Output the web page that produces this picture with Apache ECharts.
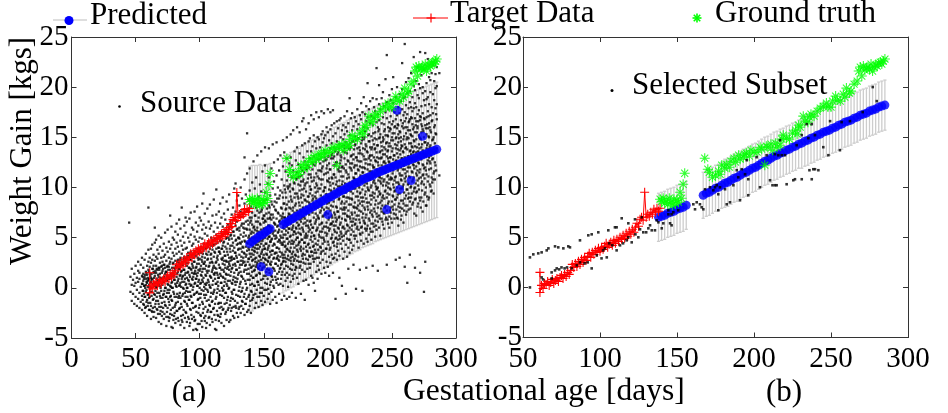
<!DOCTYPE html>
<html>
<head>
<meta charset="utf-8">
<script src="https://cdn.jsdelivr.net/npm/echarts@6/dist/echarts.min.js"></script>
<style>
  html, body { margin: 0; padding: 0; background: #fff; }
  #chart { width: 948px; height: 413px; }
</style>
</head>
<body>
<div id="chart"></div>
<script>
// ---------- (a) full source cohort: rows of [day, gain, gain, ...] ----------
const srcRows = [
  [45,6.5],[46,-0.4,1.1],[47,0.3,-1.3,1.9],[48,0.8,-0.6],[49,-1.6,0.2,1.4],[50,2.2,-0.9,0.5],[51,1.0,-1.8,-0.2],
  [52,0.6,1.7,-1.1,2.6],[53,-0.5,0.9,-2.0,1.5],[54,0.1,2.3,-1.4],[55,1.2,-0.8,0.4,3.0,-2.2],
  [56,0.7,-1.6,2.0,-0.3,1.4],[57,-2.5,0.2,1.1,2.8,-0.9],[58,1.6,-0.4,0.9,-1.9,3.4,0.3],[59,-1.2,2.2,0.5,-2.8,1.3],
  [60,8.0,0.8,-0.6,2.6,-1.5,1.8,3.8],[61,-2.2,0.1,1.4,3.0,-0.9,2.1],[62,0.6,-1.8,2.5,-3.1,1.0,3.9],
  [63,1.9,-0.4,-2.4,0.9,2.8,4.3],[64,-1.1,0.4,3.3,1.6,-2.9,2.2],[65,6.0,2.7,-0.7,1.2,-1.9,4.5,0.2],
  [66,-3.0,1.5,0.0,3.1,-1.3,2.2,4.8],[67,0.7,-2.2,2.9,1.8,-0.5,3.8],[68,-1.6,3.4,0.4,2.0,-3.4,1.1,5.2],
  [69,2.5,-0.8,1.4,4.1,-2.6,0.2],[70,0.9,-1.9,3.0,2.1,-0.3,5.0,-3.6],[71,1.7,-1.0,3.7,0.3,2.6,-2.4],
  [72,-0.6,2.3,4.4,1.0,-3.1,0.6,3.1],[73,3.3,-1.7,1.4,0.0,5.5,2.0],[74,-2.9,0.8,2.7,-0.9,4.0,1.6,-3.8],
  [75,2.2,-0.2,3.6,1.1,-2.0,5.8,0.4],[76,-1.4,3.0,0.9,4.6,-3.3,2.1,-0.5],[77,7.2,1.8,-2.6,3.9,0.2,2.6,-0.9],
  [78,-3.9,1.2,4.3,-1.2,2.9,0.5,6.1],[79,-4.0,2.4,0.0,3.5,-2.0,1.5,5.0],[80,0.8,-2.8,4.8,2.0,-0.6,3.2,1.3],
  [81,-1.7,2.7,0.4,5.6,-3.5,1.9,3.9],[82,3.4,-0.9,1.1,6.4,-2.3,2.2,0.1,4.5],[83,-3.0,0.7,4.1,2.8,-1.4,1.6,5.3],
  [84,1.9,-2.1,3.6,0.2,6.8,-0.8,2.5],[85,-3.7,1.3,4.7,-1.0,3.0,0.5,2.1,5.9],
  [86,8.0,2.6,-1.9,0.9,4.2,-3.2,1.7,3.4],[87,0.0,5.1,-2.7,2.3,-0.6,3.8,1.2],[88,-4.0,1.8,6.2,-1.3,3.1,0.6,4.5,2.7],
  [89,2.9,-2.4,0.3,5.5,-0.9,1.5,3.9,7.0],[90,-3.4,1.0,4.0,2.2,-1.6,6.6,0.0,3.0],[91,-0.4,3.5,1.6,-2.9,5.0,2.5,0.8],
  [92,4.6,-1.2,2.0,-3.8,0.4,6.9,3.2,1.3],[93,-2.2,1.9,5.3,0.2,3.6,-0.8,2.8,7.5],[94,0.9,-3.1,4.2,2.4,-1.5,6.0,1.5,3.3],
  [95,-4.2,2.0,0.1,5.8,3.0,-2.0,4.4,1.1],
  [96,3.7,-0.6,1.5,7.6,-3.3,2.6,0.4,5.1],[97,-1.8,4.8,0.9,3.2,-4.1,2.0,6.5,1.4],[98,-4.2,1.2,3.9,-0.4,5.6,2.4,0.2,8.1],
  [99,2.8,-2.5,0.6,4.6,-1.1,3.4,6.2,1.8],[100,-3.6,1.7,5.0,0.0,2.9,-1.7,7.0,3.8],[101,0.5,4.1,-2.8,2.2,6.7,-0.6,1.3,3.5],
  [102,8.4,-3.9,2.6,0.8,4.9,-1.4,3.1,5.8,1.6],[103,-2.1,3.7,1.0,6.3,-0.3,2.4,4.4,9.4],[104,1.9,-3.3,5.4,0.4,3.0,-1.0,7.4,2.6],
  [105,-4.0,2.2,4.0,-0.7,1.2,6.0,3.4,0.3],
  [106,3.3,-2.4,1.5,5.2,-0.2,2.8,7.9,4.4],[107,0.6,4.6,-3.0,2.1,6.6,-1.2,3.6,1.7],[108,-1.8,2.5,5.9,0.1,3.9,8.3,-3.7,1.2],
  [109,4.2,-0.5,2.9,1.0,6.2,-2.4,3.4,5.0],[110,-3.4,1.8,4.8,0.3,7.2,2.5,-1.3,3.8],[111,2.2,-2.0,5.6,1.4,3.1,8.8,-0.4,4.3],
  [112,-4.1,0.9,3.5,6.5,2.0,-1.6,4.9,1.5],[113,9.8,-4.2,2.6,5.3,0.4,3.9,-0.9,7.3,1.9],[114,1.3,-2.7,4.5,2.8,6.0,-0.1,3.2,0.6],
  [115,-3.3,3.6,1.0,7.6,2.3,-1.5,5.1,4.0],
  [116,4.7,-0.7,2.0,6.4,-2.9,3.4,1.4,8.4],[117,-1.9,2.9,5.5,0.5,3.9,-3.5,7.0,1.8],[118,2.4,6.1,-0.3,4.2,1.1,-2.2,3.0,5.3,9.0],
  [119,-3.8,1.6,4.6,2.7,7.4,0.2,3.6,-1.0],[120,0.9,5.8,-2.6,3.2,2.0,6.8,-0.5,4.1],[121,3.9,-1.5,1.3,8.6,2.6,5.0,-3.2,0.4],
  [122,-2.2,4.4,2.1,6.3,0.7,3.3,7.8,-0.9,5.4],[123,1.8,-3.4,5.9,3.0,0.0,4.8,2.4,9.3],[124,-3.2,2.7,6.6,1.2,4.2,-1.3,3.6,5.2],
  [125,4.9,0.5,-2.0,3.1,7.3,1.9,-0.4,6.0,2.8],
  [126,-1.1,5.6,2.3,8.0,3.7,0.8,-2.8,4.5],[127,2.9,6.8,-0.2,4.0,1.5,9.9,-3.0,5.2],[128,10.4,0.3,3.5,-1.8,6.2,2.2,4.7,7.6,1.0],
  [129,-2.5,4.3,1.8,5.8,3.0,8.7,0.6,6.6],[130,3.8,-0.8,2.6,7.1,5.0,-2.9,1.3,4.4,9.2],[131,0.1,6.0,3.3,-1.9,4.9,2.0,8.2,5.7],
  [132,5.3,1.6,-2.5,3.9,7.6,0.6,2.7,10.0,4.4],[133,-1.3,4.6,2.3,6.4,-0.3,3.6,8.9,1.1],[134,2.5,7.1,-2.1,5.1,0.9,4.0,3.0,6.0],
  [135,13.0,-0.6,3.4,5.9,1.8,8.4,-2.7,4.7,2.6,10.8],
  [136,4.1,0.4,6.6,2.3,-1.6,5.2,9.3,3.1],[137,15.4,1.4,7.7,3.7,-2.4,5.8,0.0,4.5,11.4],[138,2.9,6.3,-0.9,4.0,8.8,1.9,5.0,-2.2],
  [139,11.9,3.4,0.8,7.0,4.8,-1.8,2.3,5.8,9.7],[140,-0.3,4.3,6.7,2.0,8.1,3.1,-2.5,5.4,1.2],[141,5.0,1.6,10.5,3.8,-1.2,6.3,2.7,7.5,0.4],
  [142,12.6,2.2,6.0,-0.7,4.6,8.6,3.3,1.0,5.5],[143,-2.0,4.0,7.2,1.8,5.8,2.9,9.9,0.2,3.6],[144,3.0,6.6,-1.5,5.0,1.2,8.0,4.3,2.1,11.0],
  [145,13.2,0.6,4.7,7.7,2.5,-0.9,6.0,3.5,5.4],
  [146,1.9,5.6,-1.9,3.9,9.1,2.7,7.0,0.3,4.6],[147,6.4,-0.5,3.1,8.4,1.4,5.0,2.2,10.3,4.1],[148,13.6,2.8,7.6,0.8,4.4,-1.3,5.8,3.4,9.6],
  [149,0.0,5.3,2.0,6.9,3.8,11.6,-1.7,4.7,8.0],[150,3.3,8.7,1.2,5.9,-0.8,4.2,7.2,2.5,6.5],[151,14.0,5.0,-1.4,2.9,9.5,0.5,6.7,3.9,12.2],
  [152,2.3,7.4,4.4,-0.2,6.0,1.6,8.8,3.4,5.3],[153,-1.1,4.9,10.4,2.7,6.9,0.9,5.6,3.8],[154,13.9,6.2,1.8,8.2,-0.6,4.2,3.0,7.5,11.0,5.1],
  [155,3.6,9.2,0.3,5.5,2.4,7.0,-1.6,4.6,6.1],
  [156,5.8,1.2,8.6,3.3,11.9,-0.4,4.8,6.8,2.6],[157,14.3,2.0,7.3,4.2,-1.2,9.9,5.4,0.8,3.7],[158,6.5,3.0,10.6,0.0,5.2,8.1,1.9,4.4,12.5],
  [159,1.1,7.8,4.9,-0.9,3.5,6.3,9.3,2.4,5.7],[160,14.5,4.0,0.5,8.5,2.9,6.9,11.2,-1.5,5.0,3.5],[161,7.5,2.2,5.5,10.0,0.9,4.6,3.2,6.2,12.8],
  [162,3.9,-0.6,8.9,1.6,6.6,4.8,2.7,11.7,5.8],[163,9.7,5.2,0.4,7.2,3.1,13.2,2.0,4.5,6.4],[164,-1.2,4.3,7.9,2.4,10.8,5.6,1.3,6.9,3.5],
  [165,14.7,6.0,3.0,9.0,0.2,5.0,12.1,7.4,2.6,4.3],
  [166,1.9,7.0,4.6,10.2,-0.8,5.9,3.3,8.4,13.5],[167,5.3,2.6,9.5,6.6,0.7,4.2,11.6,7.8,3.6],[168,15.0,3.9,8.3,1.5,6.1,10.7,4.9,2.9,12.9,-1.1],
  [169,7.1,0.1,5.5,9.9,3.2,6.8,2.1,11.2,4.4],[170,4.6,12.4,1.3,8.0,5.9,-0.9,7.3,3.7,10.1],[171,15.3,6.4,2.7,9.1,4.0,13.0,0.6,7.9,5.2,3.0],
  [172,8.6,3.4,11.0,5.8,1.8,7.0,4.7,12.2,-0.5],[173,15.7,2.3,6.2,9.8,4.4,0.9,8.0,5.3,11.7,3.6],[174,5.6,10.4,2.9,7.5,13.6,1.4,6.7,4.0,9.0],
  [175,-1.0,4.8,8.4,6.0,12.7,3.2,10.9,7.2,2.1,5.4],
  [176,16.0,7.7,3.8,11.5,5.0,1.0,9.4,6.5,14.0,2.7],[177,4.3,8.9,6.2,12.3,0.4,7.3,3.1,10.3,5.5],[178,15.5,2.0,6.8,13.4,9.7,4.6,8.2,1.4,11.1,5.9],
  [179,9.0,3.7,7.6,-0.6,5.3,12.0,2.6,10.6,6.6,4.1],[180,16.6,6.0,11.7,1.8,8.5,4.8,14.2,3.2,7.1,9.8],[181,16.9,3.9,7.9,10.8,5.6,0.7,13.0,2.5,9.2,6.4],
  [182,5.0,12.6,8.8,-1.2,6.9,3.3,10.2,4.5,14.4,1.6],[183,9.6,2.9,7.4,11.9,5.4,15.8,4.1,8.1,0.8,6.2],[184,6.7,13.6,3.6,10.5,1.9,8.6,5.2,12.2,7.6],
  [185,16.4,4.4,9.1,0.3,11.3,6.0,14.6,2.4,7.9,5.6],
  [186,8.3,2.0,12.9,6.6,10.1,4.0,14.9,5.8,3.1,9.4],[187,17.2,5.1,11.0,7.7,1.2,13.6,3.6,9.8,6.3],[188,3.2,9.2,6.0,14.1,1.0,11.8,7.5,4.6,12.5,8.7],
  [189,16.8,7.0,2.6,10.7,5.2,13.1,0.5,8.4,4.2,15.2],[190,10.0,4.9,12.2,7.9,-0.3,6.4,14.6,2.9,9.1,3.8],[191,17.5,6.8,3.5,11.4,8.9,1.6,13.9,5.7,10.4],
  [192,4.3,12.8,7.2,15.0,2.2,9.6,6.0,11.1,0.9,8.0],[193,17.0,8.5,5.3,13.3,3.0,10.9,6.9,14.8,1.8],[194,7.5,11.7,2.5,9.9,5.6,14.0,4.1,12.4,8.8],
  [195,17.6,3.6,10.3,6.4,13.0,1.4,8.2,15.3,5.0,11.6],
  [196,5.9,12.1,9.0,2.8,14.5,7.1,10.8,4.4,15.6],[197,17.4,9.7,4.8,13.7,7.8,2.0,11.3,6.1,14.9],[198,3.4,8.6,12.7,5.5,10.0,15.2,1.5,7.3,13.4],
  [199,11.9,6.5,14.2,3.9,9.3,16.0,5.2,8.0,2.6,12.8],[200,17.8,7.4,13.1,4.6,10.6,2.1,9.0,15.5,6.0,11.5],[201,9.8,3.1,12.4,7.0,14.7,5.7,10.9,1.2,8.5],
  [202,17.5,6.3,11.8,4.0,13.9,8.8,2.5,15.8,7.7,10.2],[203,13.2,5.0,9.5,16.2,3.3,11.0,7.2,14.4,6.4],[204,17.7,8.1,2.9,12.9,6.6,10.4,15.1,4.5,9.0,1.5],
  [205,11.3,4.2,14.0,7.5,16.4,5.8,9.9,3.0,13.1],
  [206,-1.1,7.0,12.2,4.9,15.4,9.3,3.4,11.0,6.2,13.8],[207,10.6,5.5,14.6,8.0,2.8,16.6,6.8,12.5,4.1],[208,3.7,9.7,13.5,6.0,11.8,15.9,7.6,4.8,10.1],
  [209,16.7,12.0,5.2,8.9,14.3,3.2,10.7,7.1,1.0],[210,7.9,15.0,4.4,11.6,6.5,13.2,9.4,16.9,5.6,12.7],[211,0.2,10.3,6.9,14.1,3.9,8.6,12.0,5.1,15.7],
  [212,13.6,4.7,9.1,16.2,7.4,11.1,2.9,14.8,6.1],[213,8.4,12.9,5.9,10.0,15.3,3.6,7.8,13.9,17.1],[214,-0.6,11.7,6.7,14.5,9.5,4.3,12.3,8.0,16.0,5.4],
  [215,10.9,7.2,15.6,3.1,13.4,6.3,9.8,17.6,4.9],
  [216,14.2,5.7,9.0,12.6,4.0,16.4,7.7,11.3,1.9],[217,18.9,8.9,13.8,6.0,10.5,3.5,15.2,7.1,12.0,4.8],[218,6.6,11.9,16.9,9.6,4.5,14.0,8.3,13.1,5.3],
  [219,12.4,7.3,10.1,15.7,3.8,8.8,17.4,6.2,14.6],[220,4.2,9.9,13.3,6.9,16.1,11.0,5.6,8.1,2.3,12.8],[221,15.1,8.5,12.2,4.9,10.8,17.0,7.5,14.2,6.3],
  [222,-0.1,6.8,11.4,14.7,9.1,5.2,13.0,16.6,8.0],[223,10.4,4.6,15.8,7.9,12.7,6.1,17.8,9.6,13.9],[224,8.7,13.4,5.8,11.7,16.3,7.2,10.2,4.0,14.9],
  [225,1.8,12.1,6.5,9.4,15.4,8.4,17.2,5.4,11.0,13.7],
  [226,7.6,14.4,10.6,4.7,16.8,9.0,12.6,6.0,18.4],[227,-0.3,11.5,8.2,15.0,5.5,13.3,9.8,17.5,7.0],[228,13.1,6.7,10.9,16.0,4.4,12.0,8.6,14.8,19.0],
  [229,9.3,15.6,5.9,11.9,7.8,17.3,10.5,13.8,6.4],[230,12.8,4.9,16.6,8.9,14.1,7.3,11.2,18.1,5.7,2.0],[231,20.4,10.0,6.2,13.5,15.9,8.1,11.8,4.6,17.0],
  [232,8.5,14.6,11.0,6.9,17.8,9.7,12.9,5.3,15.3],[233,16.4,7.5,12.3,9.2,14.0,5.9,18.6,10.8,13.2],[234,11.6,6.4,15.1,8.8,17.1,4.8,13.8,10.2,7.7],
  [235,14.7,9.5,18.9,5.6,12.2,16.2,7.1,11.0,2.2],
  [236,7.9,13.0,10.7,16.9,6.1,14.3,9.0,18.0,12.0],[237,10.4,15.5,5.1,12.7,8.3,17.6,13.9,6.7,11.3],[238,21.9,9.8,14.8,7.4,16.5,11.8,5.8,13.5,18.8],
  [239,12.5,8.0,16.0,10.0,14.2,6.6,17.3,9.1,1.7],[240,15.8,7.2,12.9,18.3,9.6,14.9,6.0,11.1,16.7,20.2],[241,9.4,13.6,17.8,8.5,11.9,15.3,5.2,10.6],
  [242,14.1,6.9,16.4,10.9,13.0,8.7,18.9,12.2,7.6],[243,11.7,17.0,9.2,15.0,6.3,13.3,10.2,19.5,14.6],[244,8.9,12.6,16.3,5.9,14.0,10.8,18.1,7.4,15.6],
  [245,13.8,9.7,17.5,11.5,6.8,15.2,8.2,12.4,20.8],
  [246,23.2,10.5,14.5,7.7,16.9,12.0,9.0,18.5,13.1,2.3],[247,11.2,16.0,8.4,13.7,6.4,15.1,10.0,17.8,12.9],[248,15.6,9.3,19.2,12.5,7.1,14.4,10.8,16.5,6.0],
  [249,8.0,13.0,17.1,11.0,15.8,9.8,18.7,7.5,14.1],[250,16.3,10.9,13.6,6.5,19.8,12.1,8.6,15.0,17.7],[251,12.8,7.8,16.6,10.3,14.7,9.1,18.4,11.7,21.0],
  [252,9.6,15.4,13.2,17.5,8.3,12.3,6.9,16.0,10.7],[253,14.9,11.1,19.0,8.8,13.9,16.8,7.3,12.6,2.8],[254,17.2,10.0,14.2,12.0,20.0,9.0,15.9,7.0,13.4],
  [255,11.9,16.2,8.1,14.5,18.0,10.5,13.0,6.2,15.3],
  [256,3.0,13.7,9.4,17.4,11.4,15.6,7.6,19.3,12.5],[257,15.0,10.8,18.6,8.7,13.9,16.7,12.0,6.8,14.6],[258,22.4,12.9,9.9,16.1,14.1,7.9,17.8,11.2,19.8],
  [259,10.3,14.8,8.4,17.2,12.2,15.9,6.5,13.5,18.9],[260,24.3,13.0,16.6,10.9,19.0,8.9,14.3,11.8,17.5,2.1],[261,14.0,9.2,18.2,12.6,15.4,7.3,16.9,11.1,20.5],
  [262,0.5,16.0,11.6,13.8,19.4,9.8,15.0,8.2,17.3],[263,12.3,17.9,10.4,14.9,7.8,16.5,13.1,20.9,9.4],[264,15.7,11.0,18.5,13.6,8.6,16.8,12.0,19.6,3.3],
  [265,18.0,13.3,10.1,15.2,12.7,17.0,9.0,14.4,21.4],
  [266,11.5,16.3,14.0,8.3,19.0,12.9,17.6,10.6,15.1],[267,23.0,14.7,9.6,17.9,12.2,16.0,11.0,20.1,13.6],[268,16.9,12.6,19.7,10.0,15.5,8.8,14.1,18.4,2.0],
  [269,13.5,18.0,11.4,16.6,9.5,14.8,20.6,12.1,7.2],[270,22.0,15.9,10.7,17.3,13.0,19.2,11.7,16.1,8.1],[271,12.4,17.7,14.3,9.8,18.9,15.2,10.9,20.3],
  [272,23.5,16.7,11.8,14.9,19.9,13.4,8.7,17.1,1.5],[273,15.5,10.4,18.1,12.8,16.3,9.0,21.2,14.0],[274,13.7,19.4,11.2,17.4,15.8,7.6,20.0,12.3],
  [275,-0.4,16.9,13.1,18.7,10.3,15.0,21.8,11.9],
  [276,23.4,14.5,18.2,12.0,16.2,9.5,19.6,13.3,2.6],[277,17.0,11.3,15.3,20.4,13.9,8.2,18.8],[278,22.8,15.9,12.7,19.0,10.6,17.6,14.4],
  [279,13.0,18.3,16.4,9.0,21.0,11.8,15.0],[280,20.7,14.2,17.2,12.4,19.5,10.1,15.7],[281,16.6,11.0,18.0,13.6,21.4,9.7],
  [282,14.8,19.3,12.9,17.4,22.2,10.8],[283,18.7,13.5,16.0,20.6,11.6],[284,15.4,21.3,12.2,17.9,19.9],[285,22.0,16.8,13.9,20.1,18.3],
  [287,21.4,11.2]
];
// second batch of cohort records, filling the dense core of the cloud
const srcRowsCore = [
  [55.5,-1.2,0.4,-0.3,1.1],[56.5,0.2,-1.7,0.9,-0.6],[57.5,-0.9,1.3,0.0,-2.0],[58.5,0.6,-1.4,1.5,-0.2],[59.5,-1.8,0.1,-0.7,1.0,0.7],
  [60.5,0.9,-1.0,-2.2,0.3,1.6],[61.5,-0.4,1.2,-1.5,0.5],[62.5,-2.3,0.0,1.4,-0.8,0.8],[63.5,0.4,-1.2,1.9,-2.0],[64.5,-0.6,1.0,-2.4,0.2,1.5],
  [65.5,1.7,-1.6,0.5,-0.3],[66.5,-2.1,0.9,-0.9,1.9,0.1],[67.5,0.3,-2.6,1.3,-1.3],[68.5,-0.5,1.8,-1.9,0.7,2.0],[69.5,1.0,-2.3,0.0,-1.0],
  [70.5,-1.5,1.5,-2.8,0.4,2.2],[71.5,0.6,-0.7,-2.0,1.9],[72.5,-2.6,1.1,-0.3,2.3,-1.4],[73.5,0.0,-1.8,1.6,-0.9],[74.5,2.1,-2.4,0.7,-0.5,1.2],
  [75.5,-1.1,0.3,-2.9,1.8],[76.5,-0.2,2.4,-1.7,0.9,-3.0],[77.5,1.4,-2.2,0.1,-0.8],[78.5,-2.7,0.6,2.0,-1.3,0.0],[79.5,1.1,-0.4,-3.2,2.5],
  [80.5,-1.9,0.8,-0.9,1.7,-2.5],[81.5,0.2,2.2,-1.5,-3.1],[82.5,-0.6,1.4,-2.3,0.5,2.6],[83.5,-3.3,0.9,-1.0,1.9],[84.5,0.3,-2.0,2.8,-0.5,1.2],
  [85.5,-1.6,1.6,-2.8,0.1],[86.5,2.3,-0.8,0.6,-3.4,1.1],[87.5,-2.2,1.8,-0.1,2.9],[88.5,0.9,-1.4,-3.0,1.3,-0.5],[89.5,-0.3,2.5,-2.5,0.4],
  [90.5,1.5,-1.8,3.2,-0.9,0.0],[91.5,-3.1,0.7,2.0,-1.2],[92.5,-0.4,2.8,-2.1,1.1,-3.5],[93.5,1.8,-0.9,0.3,-2.7],[94.5,-1.5,3.3,0.8,-0.2,2.2],
  [95.5,-2.9,1.4,-0.7,2.6],[96.5,0.5,-1.9,3.5,-3.2,1.7],[97.5,2.1,-0.5,-2.4,0.9],[98.5,-1.2,3.0,0.2,-3.6,1.5],[99.5,0.8,-2.0,2.4,-0.6],
  [100.5,-2.7,1.9,-1.0,3.7,0.4],[101.5,1.2,-0.2,-3.3,2.8],[102.5,-1.6,0.6,3.4,-2.5,1.9],[103.5,2.4,-0.7,-3.0,0.1],[104.5,-0.1,3.9,-1.9,1.3,-2.8],
  [105.5,1.7,-1.3,0.5,-3.5],[106.5,-2.2,2.9,-0.4,4.1,0.8],[107.5,0.3,-1.7,2.2,-2.9],[108.5,3.3,-0.9,1.1,-2.4,0.0],[109.5,-1.4,2.6,-3.1,1.6],
  [110.5,0.7,4.2,-0.6,-2.1,2.0],[111.5,-2.7,1.3,3.6,-0.2],[112.5,2.5,-1.1,0.4,-3.2,4.4],[113.5,-0.5,3.0,-2.3,1.5],[114.5,1.0,-1.6,4.0,-2.8,0.2],
  [115.5,3.6,-0.3,2.0,-2.0],[116.5,-1.5,1.2,4.7,-2.6,0.5],[117.5,2.8,-0.8,0.0,3.9],[118.5,-2.1,1.8,-0.2,4.5,1.0],[119.5,0.6,3.2,-1.6,2.3],
  [120.5,-2.4,4.9,1.4,-0.5,2.7],[121.5,1.9,-1.2,3.6,0.2],[122.5,-0.1,2.6,-2.0,5.0,1.3],[123.5,3.9,-1.7,0.7,2.2],[124.5,-1.0,1.6,5.3,-2.3,3.0],
  [125.5,0.4,4.2,-0.6,2.0],[126.5,2.9,-1.9,5.6,1.1,-0.2],[127.5,-1.3,3.5,0.6,2.4],[128.5,4.8,-0.7,1.8,-2.0,3.2],[129.5,0.9,5.9,-1.5,2.6],
  [130.5,-0.3,3.9,1.5,-2.1,5.0],[131.5,2.3,-0.9,4.5,0.4],[132.5,-1.8,3.1,6.2,1.2,-0.4],[133.5,4.1,0.0,2.7,-1.4],[134.5,1.6,5.5,-0.9,3.5,6.4],
  [135.5,-1.6,2.2,4.6,0.7],[136.5,3.3,-0.2,5.9,1.8,-1.1],[137.5,0.8,4.4,2.6,6.7],[138.5,-0.7,3.8,1.4,5.2,2.9],[139.5,4.9,0.3,6.5,-1.3],
  [140.5,2.1,5.6,-0.4,3.4,7.0],[141.5,1.0,4.1,-1.0,2.8],[142.5,6.1,0.2,3.7,5.0,1.7],[143.5,-0.6,2.6,7.2,4.5],[144.5,3.9,1.3,5.7,-0.2,2.3],
  [145.5,6.6,0.6,4.3,2.0],[146.5,-0.9,3.2,7.5,1.5,5.1],[147.5,4.7,2.5,0.0,6.3],[148.5,1.8,5.5,-0.5,3.6,7.8],[149.5,3.0,6.9,0.9,4.9],
  [150.5,-0.2,2.1,5.9,3.9,7.2],[151.5,4.4,1.2,6.6,2.8],[152.5,7.9,0.4,3.3,5.4,1.9],[153.5,2.6,6.2,4.0,-0.1],[154.5,5.1,1.5,8.0,3.1,6.9],
  [155.5,0.6,4.6,2.3,7.3],[156.5,3.7,6.0,1.1,8.3,4.9],[157.5,5.6,0.2,2.9,7.0],[158.5,1.7,4.3,8.6,3.4,6.4],[159.5,7.7,2.4,5.2,0.8],
  [160.5,4.0,8.9,1.4,6.1,3.0],[161.5,0.3,5.6,7.4,2.8],[162.5,6.7,3.6,9.2,1.9,4.7],[163.5,2.3,8.0,5.0,0.9],[164.5,4.5,7.1,1.6,9.5,3.3],
  [165.5,6.2,2.7,8.4,5.3],[166.5,1.3,4.1,9.8,7.0,3.0],[167.5,7.9,5.7,2.2,9.0],[168.5,3.8,10.1,6.4,1.0,4.9],[169.5,8.6,2.8,5.9,7.4],
  [170.5,5.1,9.6,1.9,3.6,10.3],[171.5,2.4,7.2,4.4,8.8],[172.5,9.9,6.0,3.1,1.2,7.7],[173.5,4.6,10.5,5.6,2.7],[174.5,8.2,3.3,6.8,9.4,1.8],
  [175.5,5.9,2.0,10.8,4.2],[176.5,7.4,9.1,3.6,5.0,11.0],[177.5,2.6,6.3,8.5,4.5],[178.5,10.2,3.9,7.8,5.4,2.2],[179.5,6.9,11.2,4.8,9.3],
  [180.5,3.4,8.0,5.8,10.6,2.9],[181.5,9.9,4.5,7.1,11.5],[182.5,5.2,2.4,8.7,6.5,10.4],[183.5,3.7,11.8,7.6,5.0],[184.5,9.1,4.3,6.2,2.8,10.9],
  [185.5,7.3,12.0,3.2,8.5],[186.5,4.8,9.8,6.7,2.4,11.3],[187.5,10.6,3.6,7.9,5.5],[188.5,6.0,12.3,4.1,8.9,2.9],[189.5,8.1,5.2,11.0,3.5],
  [190.5,9.5,6.6,12.5,4.4,7.4],[191.5,3.0,10.2,5.8,8.6],[192.5,11.7,7.0,4.7,9.9,3.8],[193.5,6.3,12.8,8.3,5.1],[194.5,4.0,9.2,10.8,7.7,3.4],
  [195.5,11.9,5.6,8.0,6.5],[196.5,7.2,3.7,12.6,9.6,5.0],[197.5,10.0,4.6,8.8,13.0],[198.5,6.1,11.4,3.9,7.5,9.3],[199.5,12.2,5.4,8.4,10.7],
  [200.5,4.3,9.0,6.8,13.1,7.9],[201.5,10.5,5.9,11.8,3.8],[202.5,8.2,12.9,6.4,4.9,9.7],[203.5,7.0,10.9,13.4,5.3],[204.5,11.3,4.6,8.6,6.2,12.2],
  [205.5,9.4,13.6,7.3,5.6],[206.5,5.0,10.3,12.5,8.1,6.6],[207.5,13.3,7.6,9.8,4.4],[208.5,8.8,11.6,5.9,13.9,7.0],[209.5,10.1,6.3,12.4,4.9],
  [210.5,5.4,13.0,8.4,9.6,11.1],[211.5,7.8,12.1,6.0,10.6],[212.5,14.2,9.1,5.2,11.9,8.0],[213.5,6.8,10.4,13.5,7.4],[214.5,11.5,5.6,9.0,14.0,8.6],
  [215.5,7.1,12.7,10.2,6.2],[216.5,9.7,4.8,13.9,8.3,11.0],[217.5,12.4,6.9,14.4,10.0],[218.5,5.8,11.7,8.9,7.5,13.2],[219.5,10.6,14.6,6.6,9.4],
  [220.5,8.0,12.0,5.2,13.8,10.9],[221.5,6.4,9.9,11.4,14.3],[222.5,13.0,7.2,10.4,5.9,12.2],[223.5,9.1,14.9,8.2,11.8],[224.5,6.8,12.6,10.0,7.7,14.0],
  [225.5,11.2,5.3,13.4,9.5],[226.5,14.7,8.6,6.1,12.0,10.6],[227.5,7.4,11.5,13.9,9.0],[228.5,10.2,6.5,12.8,15.0,8.0],[229.5,12.4,9.6,7.0,14.3],
  [230.5,5.9,11.0,13.6,8.5,10.4],[231.5,9.8,15.2,7.8,12.3],[232.5,13.1,6.7,10.8,11.6,14.6],[233.5,8.3,12.7,5.6,10.0],[234.5,11.4,14.0,9.2,7.3,13.2],
  [235.5,6.4,10.5,15.4,12.0],[236.5,9.4,13.8,7.6,11.2,14.9],[237.5,12.6,8.7,10.1,6.2],[238.5,14.2,7.1,11.7,9.9,13.0],[239.5,10.7,15.6,8.4,12.2],
  [240.5,6.9,13.5,9.3,11.0,15.0],[241.5,12.9,7.9,14.5,10.4],[242.5,9.0,11.9,6.6,13.7,8.2],[243.5,14.8,10.6,12.5,7.5],[244.5,11.5,8.0,15.8,9.6,13.3],
  [245.5,7.0,12.1,10.2,14.4],[246.5,13.6,9.4,11.1,6.8,15.2],[247.5,10.4,14.1,8.6,12.6],[248.5,7.7,11.8,15.9,9.9,13.0],[249.5,12.3,6.9,14.7,10.8],
  [250.5,15.4,9.2,11.4,8.1,13.9],[251.5,10.0,13.2,7.4,12.0],[252.5,14.3,8.8,16.1,11.0,9.7],[253.5,12.7,7.8,10.5,15.0],[254.5,9.3,13.8,11.7,6.9,16.3],
  [255.5,14.9,10.3,8.4,12.4],[256.5,8.0,15.5,11.2,13.3,9.9],[257.5,12.9,7.2,14.2,10.7],[258.5,10.1,16.4,8.7,13.6,11.8],[259.5,15.1,9.5,12.2,7.7],
  [260.5,11.4,13.9,8.2,16.0,10.6],[261.5,7.6,12.6,14.8,9.8],[262.5,13.1,10.3,15.7,8.9,12.0],[263.5,9.0,14.4,11.1,16.6],[264.5,12.8,7.9,10.0,15.3,13.7],
  [265.5,11.6,16.9,9.4,14.1],[266.5,8.5,13.5,12.3,10.8,15.8],[267.5,14.6,9.9,11.9,7.4],[268.5,10.4,16.2,13.0,8.9,12.7],[269.5,15.5,11.2,9.6,14.0],
  [270.5,8.4,12.5,16.6,10.2,13.6],[271.5,13.9,9.0,15.0,11.5],[272.5,11.0,17.0,8.0,12.9,14.8],[273.5,9.7,14.3,16.1,10.6],[274.5,15.6,12.2,8.6,13.4,11.3],
  [275.5,10.9,16.8,9.3,14.5],[276.5,13.1,8.2,15.9,11.7,10.0],[277.5,16.3,12.4,14.2,9.1],[278.5,11.1,15.1,8.8,13.8,17.1],[279.5,14.0,10.3,12.6,16.0],
  [280.5,9.6,15.5,11.9,13.2],[281.5,12.8,16.7,10.5,14.7],[282.5,15.0,9.4,13.5,11.4],[283.5,10.8,14.4,16.2,12.5],[284.5,13.6,11.7,15.3,17.3]
];

// ---------- (a) predictions from the source model ----------
const predDaysA = [139,141,143,145,147,149,151,153,155,
  165,167,169,171,173,175,177,179,181,183,185,187,189,191,193,195,197,199,201,203,205,207,209,211,213,215,217,219,221,223,225,
  227,229,231,233,235,237,239,241,243,245,247,249,251,253,255,257,259,261,263,265,267,269,271,273,275,277,279,281,283,285];
const predMeanA = [4.4,4.6,4.8,5.0,5.2,5.3,5.5,5.7,5.9,
  6.3,6.5,6.6,6.8,6.9,7.1,7.2,7.4,7.5,7.7,7.8,8.0,8.1,8.3,8.4,8.6,8.7,8.9,9.0,9.1,9.3,9.4,9.6,9.7,9.8,10.0,10.1,10.2,10.4,10.5,10.6,
  10.8,10.9,11.0,11.1,11.2,11.4,11.5,11.6,11.7,11.8,11.9,12.0,12.1,12.2,12.3,12.4,12.5,12.6,12.7,12.8,12.9,13.0,13.1,13.2,13.3,13.4,13.5,13.6,13.7,13.8];
const predLowA = [-2.4,-2.3,-2.1,-2.0,-1.9,-1.8,-1.6,-1.5,-1.4,
  -0.5,-0.3,-0.2,0.0,0.1,0.3,0.4,0.6,0.7,0.9,1.0,1.2,1.3,1.5,1.6,1.8,1.9,2.1,2.2,2.3,2.5,2.6,2.8,2.9,3.0,3.2,3.3,3.4,3.6,3.7,3.8,
  4.0,4.1,4.2,4.3,4.4,4.6,4.7,4.8,4.9,5.0,5.1,5.2,5.3,5.4,5.5,5.6,5.7,5.8,5.9,6.0,6.1,6.2,6.3,6.4,6.5,6.6,6.7,6.8,6.9,7.0];
const predHighA = [12.1,12.2,12.2,12.2,12.3,12.2,12.3,12.3,12.4,
  13.0,13.2,13.3,13.5,13.6,13.8,13.9,14.1,14.2,14.4,14.5,14.7,14.8,15.0,15.1,15.3,15.4,15.6,15.7,15.8,16.0,16.1,16.3,16.4,16.5,16.7,16.8,16.9,17.1,17.2,17.3,
  17.5,17.6,17.7,17.8,17.9,18.1,18.2,18.3,18.4,18.5,18.6,18.7,18.8,18.9,19.0,19.1,19.2,19.3,19.4,19.5,19.6,19.7,19.8,19.9,20.0,20.1,20.2,20.3,20.4,20.5];
const strayDaysA = [148,154,200,246,254,256,265,274];
const strayMeanA = [2.1,1.6,7.3,7.8,17.7,9.8,10.7,15.1];

// ---------- (b) selected subset and its predictions ----------
const subsetDays = [54.5,56.7,59.9,62.1,65.4,66.5,70.8,72.9,76.2,79.4,80.5,87,92.4,94.6,98.9,105.4,109.7,110.8,114.1,118.4,122.7,127.1,
  54.5,62.1,63,68.6,68.6,70.8,71.9,73.5,75,77,78.6,81.6,84.9,87,90,92,94.6,97.9,101,102,103.2,104.4,106,108,110.8,113,115,117.3,118.4,
  120.6,123,124.9,126,128.1,130,131.4,132.5,133.6,135.7,136.8,137.9,140.1,141.1,144.4,146.5,
  144.4,145.5,146.5,147.6,150.8,160.6,161.7,162.8,164.9,166,167.1,
  168.2,171.4,173.6,174.7,175.8,176.8,176.8,177.9,181.2,182.3,184.4,186.6,188.8,189.8,190.9,192,194.2,195.3,196.3,196.3,201.7,203.9,
  208.2,210.4,212,213.6,213.6,214.7,215.8,216.9,218,220.1,221.2,225.5,226.6,227.7,231,231,234.2,235.3,236,237.5,237.5,238.5,239.6,
  239.6,241.8,245,248.3,249.4,255.8,256.9,262.3,270.6,277.1,279.7];
const subsetGain = [3.0,3.3,3.4,3.5,3.7,3.9,4.1,4.0,3.9,4.1,4.0,4.7,5.2,5.3,5.5,5.7,6.0,6.0,6.9,6.4,6.8,7.0,
  0.0,1.0,0.8,0.9,1.5,1.7,1.9,1.8,2.0,1.9,2.0,1.9,2.2,2.5,2.4,2.5,1.9,3.2,2.9,3.7,3.9,3.0,4.4,4.2,3.7,4.2,4.4,4.7,5.0,
  4.5,5.3,5.0,5.8,5.5,5.5,5.9,6.2,5.7,5.7,6.7,6.5,5.9,6.4,7.3,6.2,
  7.7,6.4,7.3,7.5,7.7,8.3,7.8,8.5,8.3,8.0,7.8,
  9.8,10.0,9.7,10.0,10.2,9.3,7.7,10.0,9.8,8.3,8.5,10.2,11.7,11.0,8.7,11.8,11.3,12.7,10.8,9.2,13.0,10.0,
  13.2,10.7,10.2,10.2,13.3,10.2,13.2,14.7,13.2,13.2,10.3,10.7,10.8,14.2,15.2,10.8,16.3,14.9,11.7,10.8,16.3,11.8,11.8,
  15.2,11.7,14.0,13.2,16.6,13.7,16.5,16.6,17.5,20.0,18.6];
const predDaysB = [138,140,142,144,146,148,150,152,154,156,
  167,169,171,173,175,177,179,181,183,185,187,189,191,193,195,197,199,201,203,205,207,209,211,213,215,217,219,221,223,225,
  227,229,231,233,235,237,239,241,243,245,247,249,251,253,255,257,259,261,263,265,267,269,271,273,275,277,279,281,283,285];
const predMeanB = [7.0,7.1,7.2,7.4,7.5,7.6,7.8,7.9,8.0,8.2,
  9.2,9.4,9.5,9.7,9.9,10.0,10.2,10.4,10.5,10.7,10.9,11.0,11.2,11.4,11.5,11.7,11.9,12.0,12.2,12.4,12.6,12.7,12.9,13.1,13.2,13.4,13.5,13.7,13.8,14.0,
  14.1,14.3,14.4,14.6,14.7,14.9,15.0,15.2,15.3,15.5,15.6,15.7,15.9,16.0,16.2,16.3,16.5,16.6,16.7,16.9,17.0,17.2,17.3,17.4,17.6,17.7,17.8,18.0,18.1,18.2];
const predErrB = [2.4,2.4,2.4,2.4,2.4,2.4,2.4,2.4,2.4,2.4,
  2.3,2.3,2.3,2.3,2.3,2.3,2.3,2.4,2.4,2.4,2.4,2.4,2.4,2.4,2.4,2.4,2.4,2.4,2.4,2.4,2.4,2.4,2.4,2.4,2.4,2.4,2.4,2.4,2.4,2.4,
  2.4,2.4,2.5,2.5,2.5,2.5,2.5,2.5,2.5,2.5,2.5,2.5,2.5,2.5,2.5,2.5,2.5,2.5,2.5,2.5,2.5,2.5,2.5,2.5,2.5,2.5,2.5,2.5,2.5,2.5];

// ---------- shared: target series and ground truth ----------
const targetDays = [61,61,62,63,64,65,66,67,68,69,70,71,72,73,74,75,76,77,78,79,80,81,82,83,84,85,86,87,88,89,90,
  91,92,93,94,95,96,97,98,99,100,101,102,103,104,105,106,107,108,109,110,111,112,113,114,115,116,117,118,119,120,
  121,122,123,124,125,126,127,128,129,130,131,132,133,134,135,136,137,138,139];
const targetGain = [1.5,-0.5,0.2,-0.1,0.4,0.3,0.6,0.2,0.5,0.8,0.4,0.7,0.9,0.6,1.0,1.2,0.9,1.3,1.1,1.5,1.3,1.7,2.3,2.0,2.4,2.1,2.6,2.3,2.8,2.5,3.0,
  2.7,3.1,3.4,3.0,3.5,3.3,3.7,3.5,3.9,3.6,4.0,3.8,4.1,4.4,4.0,4.3,4.5,4.2,4.7,4.4,4.8,4.6,5.0,4.8,5.2,4.9,5.4,5.1,5.6,5.3,
  5.8,5.5,6.0,6.4,6.1,6.8,7.0,6.7,9.5,7.0,7.3,7.1,7.5,7.3,7.8,7.5,7.9,7.6,7.9];
const truthDays = [139,140,141,142,143,144,145,146,147,148,149,150,151,152,153,154,155,
  168,170,171,173,175,177,178,179,181,182,184,185,187,188,190,191,193,194,195,197,198,200,202,204,205,207,208,209,211,212,214,215,217,
  218,219,221,223,225,227,228,229,230,232,233,235,236,237,239,241,243,245,247,248,250,251,253,254,256,258,259,260,262,263,265,267,
  268,269,270,271,272,273,274,275,276,277,278,279,280,281,282,283,284,285];
const truthGain = [8.8,8.6,8.9,8.4,8.7,8.3,8.9,8.5,8.2,8.8,8.4,8.7,8.5,9.5,8.9,10.3,11.4,
  12.9,11.8,11.5,11.0,11.2,11.6,11.3,12.2,11.9,12.3,12.0,12.6,12.9,12.5,13.2,12.8,13.0,13.3,13.4,13.1,13.7,13.5,13.5,14.0,13.8,12.2,14.1,14.0,14.3,13.7,14.4,14.0,14.2,
  14.8,15.2,14.9,14.8,15.4,15.7,15.3,16.2,16.0,17.1,16.6,16.5,17.0,17.3,17.1,17.6,17.9,18.1,18.4,18.0,18.0,18.6,19.1,18.7,18.6,19.3,19.0,19.9,19.4,19.6,20.3,20.6,
  21.6,22.0,21.1,22.1,21.7,21.9,22.0,21.8,22.3,21.6,22.0,22.2,22.1,22.4,22.5,22.3,22.6,22.8];

// ---------- axis ranges and tick spacing ----------
const xRangeA = [0, 300], xRangeB = [50, 300], yRange = [-5, 25];
const xStep = 50, yStep = 5;

// ---------- assemble series data ----------
const sourcePts = [];
srcRows.concat(srcRowsCore).forEach(r => { for (let i = 1; i < r.length; i++) sourcePts.push([r[0], r[i]]); });
const zip = (a, b) => a.map((v, i) => [v, b[i]]);
const barsA = predDaysA.map((d, i) => [d, predLowA[i], predHighA[i]]);
const barsB = predDaysB.map((d, i) => [d, +(predMeanB[i] - predErrB[i]).toFixed(2), +(predMeanB[i] + predErrB[i]).toFixed(2)]);

const FONT = '"Liberation Serif","Times New Roman",serif';
const PLUS = 'path://M8.8,0H11.2V20H8.8ZM0,8.8H20V11.2H0Z';
const STAR = 'path://M8.9,0H11.1V20H8.9ZM0,8.9H20V11.1H0ZM2.2,3.7L3.7,2.2L17.8,16.3L16.3,17.8ZM16.3,2.2L17.8,3.7L3.7,17.8L2.2,16.3Z';

function errorBars(params, api) {
  const x = api.value(0);
  const lo = api.coord([x, api.value(1)]);
  const hi = api.coord([x, api.value(2)]);
  const c = 1.6;
  const st = () => ({ stroke: '#cdcdcd', lineWidth: 1.3 });
  return {
    type: 'group',
    children: [
      { type: 'line', shape: { x1: lo[0], y1: lo[1], x2: hi[0], y2: hi[1] }, style: st() },
      { type: 'line', shape: { x1: lo[0] - c, y1: lo[1], x2: lo[0] + c, y2: lo[1] }, style: st() },
      { type: 'line', shape: { x1: hi[0] - c, y1: hi[1], x2: hi[0] + c, y2: hi[1] }, style: st() }
    ]
  };
}

const AX = '#333';
function xAxisDef(gridIndex, range, position, labels) {
  return {
    type: 'value', gridIndex, position, min: range[0], max: range[1], interval: xStep,
    axisLine: { show: true, onZero: false, lineStyle: { color: AX, width: 1 } },
    axisTick: { show: true, inside: true, length: 5, lineStyle: { color: AX } },
    axisLabel: { show: labels, color: '#000', fontFamily: FONT, fontSize: 29, margin: 7 },
    splitLine: { show: false }
  };
}
function yAxisDef(gridIndex, position, labels, margin) {
  return {
    type: 'value', gridIndex, position, min: yRange[0], max: yRange[1], interval: yStep,
    axisLine: { show: true, onZero: false, lineStyle: { color: AX, width: 1 } },
    axisTick: { show: true, inside: true, length: 5, lineStyle: { color: AX } },
    axisLabel: { show: labels, color: '#000', fontFamily: FONT, fontSize: 29, margin: margin },
    splitLine: { show: false }
  };
}

function txt(text, x, y, align, extra, size) {
  return Object.assign({
    type: 'text', x, y, silent: true,
    style: { text, fill: '#000', font: (size || 31) + 'px ' + FONT, align: align || 'left', verticalAlign: 'middle' }
  }, extra || {});
}
function starGlyph(cx, cy, r, color) {
  const d = r * 0.72;
  const ls = { stroke: color, lineWidth: 1.6 };
  return {
    type: 'group', silent: true, children: [
      { type: 'line', shape: { x1: cx - r, y1: cy, x2: cx + r, y2: cy }, style: ls },
      { type: 'line', shape: { x1: cx, y1: cy - r, x2: cx, y2: cy + r }, style: ls },
      { type: 'line', shape: { x1: cx - d, y1: cy - d, x2: cx + d, y2: cy + d }, style: ls },
      { type: 'line', shape: { x1: cx - d, y1: cy + d, x2: cx + d, y2: cy - d }, style: ls }
    ]
  };
}

const chart = echarts.init(document.getElementById('chart'), null, { renderer: 'canvas' });
chart.setOption({
  animation: false,
  backgroundColor: '#fff',
  grid: [
    { left: 71.5, right: 492, top: 37, bottom: 75 },
    { left: 523, right: 40, top: 37, bottom: 75.5 }
  ],
  xAxis: [
    xAxisDef(0, xRangeA, 'bottom', true),
    xAxisDef(0, xRangeA, 'top', false),
    xAxisDef(1, xRangeB, 'bottom', true),
    xAxisDef(1, xRangeB, 'top', false)
  ],
  yAxis: [
    yAxisDef(0, 'left', true, 3),
    yAxisDef(0, 'right', false, 3),
    yAxisDef(1, 'left', true, 1),
    yAxisDef(1, 'right', false, 1)
  ],
  series: [
    // panel (a)
    { type: 'custom', name: 'Predicted interval', xAxisIndex: 0, yAxisIndex: 0, renderItem: errorBars,
      encode: { x: 0, y: [1, 2] }, data: barsA, z: 1, silent: true },
    { type: 'scatter', name: 'Source Data', xAxisIndex: 0, yAxisIndex: 0, data: sourcePts,
      symbol: 'rect', symbolSize: 2.3, itemStyle: { color: '#000' }, z: 2, silent: true, progressive: 0, large: false },
    { type: 'scatter', name: 'Predicted', xAxisIndex: 0, yAxisIndex: 0, data: zip(predDaysA, predMeanA),
      symbol: 'circle', symbolSize: 9, itemStyle: { color: '#0000ff' }, z: 3, silent: true },
    { type: 'scatter', name: 'Predicted', xAxisIndex: 0, yAxisIndex: 0, data: zip(strayDaysA, strayMeanA),
      symbol: 'circle', symbolSize: 9, itemStyle: { color: '#0000ff' }, z: 3, silent: true },
    { type: 'line', name: 'Target Data', xAxisIndex: 0, yAxisIndex: 0, data: zip(targetDays, targetGain),
      symbol: PLUS, symbolSize: 9, showSymbol: true, showAllSymbol: true,
      lineStyle: { color: '#ff0000', width: 1 }, itemStyle: { color: '#ff0000' }, z: 4, silent: true },
    { type: 'scatter', name: 'Ground truth', xAxisIndex: 0, yAxisIndex: 0, data: zip(truthDays, truthGain),
      symbol: STAR, symbolSize: 10, itemStyle: { color: '#00ff00' }, z: 5, silent: true },
    // panel (b)
    { type: 'custom', name: 'Predicted interval', xAxisIndex: 2, yAxisIndex: 2, renderItem: errorBars,
      encode: { x: 0, y: [1, 2] }, data: barsB, z: 1, silent: true },
    { type: 'scatter', name: 'Predicted', xAxisIndex: 2, yAxisIndex: 2, data: zip(predDaysB, predMeanB),
      symbol: 'circle', symbolSize: 9, itemStyle: { color: '#0000ff' }, z: 3, silent: true },
    { type: 'line', name: 'Target Data', xAxisIndex: 2, yAxisIndex: 2, data: zip(targetDays, targetGain),
      symbol: PLUS, symbolSize: 9, showSymbol: true, showAllSymbol: true,
      lineStyle: { color: '#ff0000', width: 1 }, itemStyle: { color: '#ff0000' }, z: 4, silent: true },
    { type: 'scatter', name: 'Ground truth', xAxisIndex: 2, yAxisIndex: 2, data: zip(truthDays, truthGain),
      symbol: STAR, symbolSize: 10, itemStyle: { color: '#00ff00' }, z: 5, silent: true },
    { type: 'scatter', name: 'Selected Subset', xAxisIndex: 2, yAxisIndex: 2, data: zip(subsetDays, subsetGain),
      symbol: 'rect', symbolSize: 2.6, itemStyle: { color: '#000' }, z: 6, silent: true }
  ],
  graphic: [
    // legend row
    { type: 'line', silent: true, shape: { x1: 53, y1: 20, x2: 87, y2: 20 }, style: { stroke: '#bdbdbd', lineWidth: 1 } },
    { type: 'circle', silent: true, shape: { cx: 69, cy: 20.5, r: 4.5 }, style: { fill: '#0000ff' } },
    txt('Predicted', 90, 16),
    { type: 'line', silent: true, shape: { x1: 413, y1: 18, x2: 448, y2: 18 }, style: { stroke: '#ff0000', lineWidth: 1 } },
    { type: 'line', silent: true, shape: { x1: 431, y1: 13.5, x2: 431, y2: 22.5 }, style: { stroke: '#ff0000', lineWidth: 1.2 } },
    { type: 'line', silent: true, shape: { x1: 426.5, y1: 18, x2: 435.5, y2: 18 }, style: { stroke: '#ff0000', lineWidth: 1.2 } },
    txt('Target Data', 450, 14),
    starGlyph(697, 18, 4.5, '#00ff00'),
    txt('Ground truth', 715, 14),
    // in-panel labels
    { type: 'circle', silent: true, shape: { cx: 119.5, cy: 106.5, r: 1.3 }, style: { fill: '#000' } },
    txt('Source Data', 140, 104),
    { type: 'circle', silent: true, shape: { cx: 612, cy: 90.5, r: 1.5 }, style: { fill: '#000' } },
    txt('Selected Subset', 632, 86),
    // axis titles and panel tags
    txt('Weight Gain [kgs]', 23, 151, 'center', { rotation: Math.PI / 2 }),
    txt('Gestational age [days]', 403, 392, 'left', null, 31.5),
    txt('(a)', 189, 393, 'center'),
    txt('(b)', 784, 393, 'center')
  ]
});
</script>
</body>
</html>
